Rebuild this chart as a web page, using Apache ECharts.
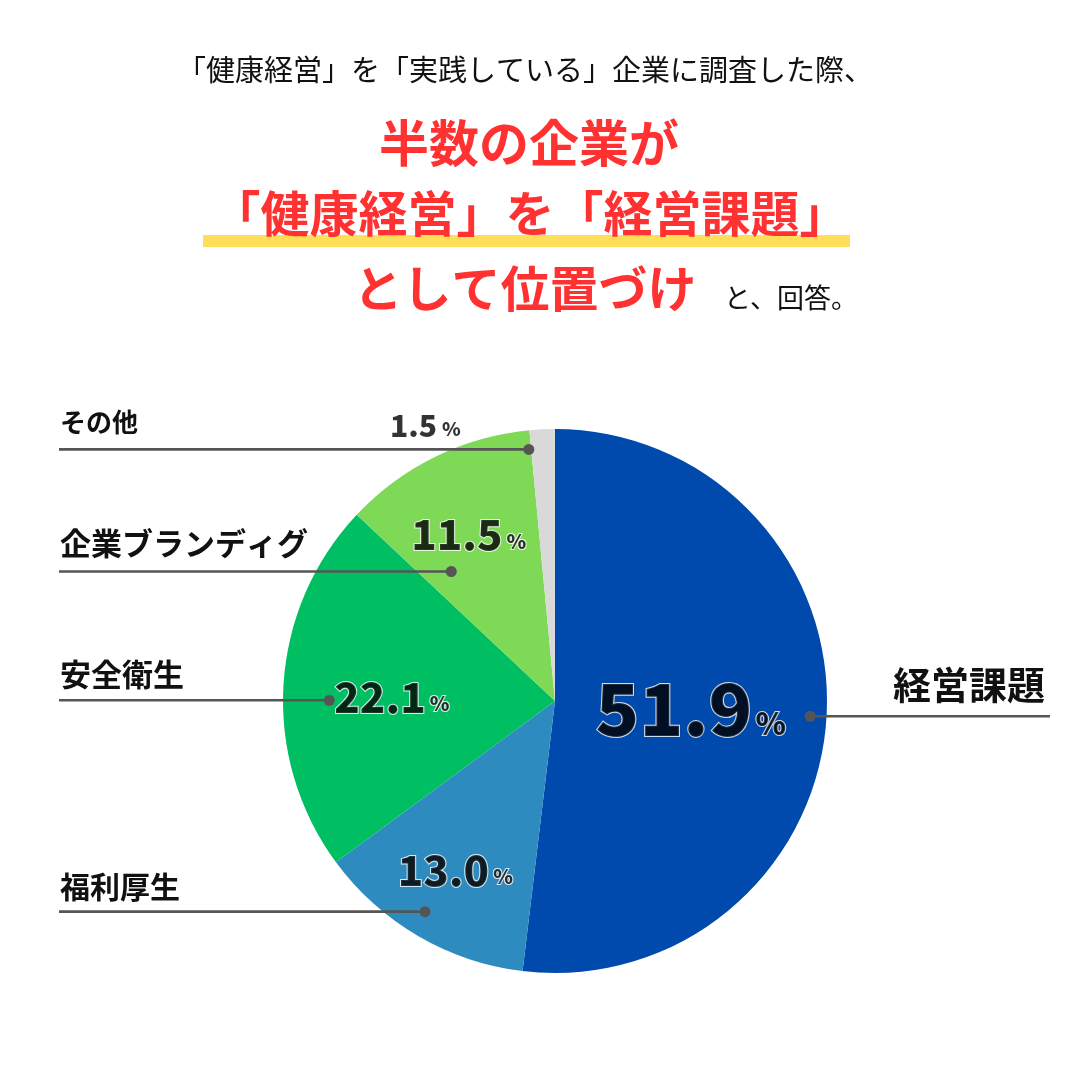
<!DOCTYPE html>
<html><head><meta charset="utf-8">
<script src="https://cdn.jsdelivr.net/npm/echarts@6/dist/echarts.min.js"></script>
<style>html,body{margin:0;padding:0;background:#fff}#c{width:1080px;height:1080px}</style>
</head><body><div id="c"></div>
<script>
// ---- data ----
const categories = ['経営課題', '福利厚生', '安全衛生', '企業ブランディグ', 'その他'];
const values = [51.9, 13.0, 22.1, 11.5, 1.5];
const colors = ['#004aad', '#2e8bc0', '#00bf63', '#7ed957', '#d9d9d9'];
const titleLine1 = '「健康経営」を「実践している」企業に調査した際、';
const headline = ['半数の企業が', '「健康経営」を「経営課題」', 'として位置づけ'];
const headlineTail = 'と、回答。';

// ---- layout (not data) ----
const CX = 555, CY = 701, R = 272, PR = 1.3;
const FONT = '"Noto Sans CJK JP", "Noto Sans", sans-serif';
const dotPlace = [[0.94, 0], [0.91, 0.4], [0.83, -0.9], [0.61, -3.5], [0.93, -0.9]];
const valPlace = [[0.50, -0.1], [0.72, 0.1], [0.60, -0.55], [0.69, -0.35], [1.12, -6.25]];
const valStyle = ['big', 'mid', 'mid', 'mid', 'small'];
const nameSize = [38, 30, 31, 31, 26];
const nameLift = [32, 25, 26, 28, 27];

const total = values.reduce((a, b) => a + b, 0);
const mids = []; let acc = 0;
values.forEach(v => { mids.push(acc + v / 2); acc += v; });

function polarXY(f, a) {
  const t = a / total * Math.PI * 2;
  return [CX + R * f * Math.sin(t), CY - R * f * Math.cos(t)];
}
function dotXY(i) { return polarXY(dotPlace[i][0], mids[i] + dotPlace[i][1]); }

const numBase = { fontFamily: FONT, fontWeight: 900, color: '#000', textBorderColor: '#fff', textBorderWidth: 2, verticalAlign: 'bottom' };
const rich = {
  bign: Object.assign({}, numBase, { fontSize: 72, lineHeight: 72 }),
  bigp: Object.assign({}, numBase, { fontSize: 31, lineHeight: 31, padding: [0, 0, 6, 3] }),
  midn: Object.assign({}, numBase, { fontSize: 42, lineHeight: 42 }),
  midp: Object.assign({}, numBase, { fontSize: 20, lineHeight: 20, padding: [0, 0, 4, 4] }),
  smalln: Object.assign({}, numBase, { fontSize: 30, lineHeight: 30 }),
  smallp: Object.assign({}, numBase, { fontSize: 19, lineHeight: 19, padding: [0, 0, 2, 5] })
};

const chart = echarts.init(document.getElementById('c'), null, { renderer: 'canvas' });
const option = {
  backgroundColor: '#fff',
  animation: false,
  polar: { center: [CX, CY], radius: R * PR },
  angleAxis: { type: 'value', min: 0, max: total, startAngle: 90, clockwise: true, show: false },
  radiusAxis: { type: 'value', min: 0, max: PR, show: false },
  graphic: [
    { type: 'rect', z: 1, shape: { x: 203, y: 235, width: 647, height: 12 }, style: { fill: '#ffde59' } },
    { type: 'text', z: 2, x: 525, y: 70, style: { text: titleLine1, fill: '#111', font: '400 29px ' + FONT, align: 'center', verticalAlign: 'middle' } },
    { type: 'text', z: 2, x: 529, y: 143, style: { text: headline[0], fill: '#ff3131', font: 'bold 50px ' + FONT, align: 'center', verticalAlign: 'middle' } },
    { type: 'text', z: 2, x: 530, y: 213, style: { text: headline[1], fill: '#ff3131', font: 'bold 49px ' + FONT, align: 'center', verticalAlign: 'middle' } },
    { type: 'text', z: 2, x: 525, y: 288, style: { text: headline[2], fill: '#ff3131', font: 'bold 49px ' + FONT, align: 'center', verticalAlign: 'middle' } },
    { type: 'text', z: 2, x: 791, y: 298, style: { text: headlineTail, fill: '#111', font: '400 27px ' + FONT, align: 'center', verticalAlign: 'middle' } }
  ],
  series: [
    {
      type: 'pie',
      center: [CX, CY],
      radius: R,
      startAngle: 90,
      clockwise: true,
      silent: true,
      z: 2,
      data: categories.map((c, i) => ({ name: c, value: values[i], itemStyle: { color: colors[i] } })),
      itemStyle: { borderWidth: 0 },
      label: { show: false },
      labelLine: { show: false }
    },
    {
      // transparent overlay pie: carries the category names and leader lines above all slices
      type: 'pie',
      center: [CX, CY],
      radius: R,
      startAngle: 90,
      clockwise: true,
      silent: true,
      z: 4,
      data: categories.map((c, i) => ({
        name: c, value: values[i],
        label: { fontSize: nameSize[i] }
      })),
      itemStyle: { color: 'rgba(0,0,0,0)', borderWidth: 0 },
      label: {
        show: true, position: 'outside', formatter: '{b}',
        fontFamily: FONT, fontWeight: 'bold', color: '#111'
      },
      labelLine: { show: true, showAbove: true, lineStyle: { color: '#555', width: 2.6, opacity: 1 } },
      labelLayout: function (p) {
        const i = p.dataIndex;
        const d = dotXY(i);
        const right = d[0] > CX;
        return {
          x: right ? 1045 : 60,
          y: d[1] - nameLift[i],
          align: right ? 'right' : 'left',
          verticalAlign: 'middle',
          labelLinePoints: [[d[0], d[1]], [right ? 1050 : 59, d[1]]]
        };
      }
    },
    {
      type: 'scatter',
      coordinateSystem: 'polar',
      silent: true,
      clip: false,
      z: 5,
      symbol: 'circle',
      symbolSize: 11,
      itemStyle: { color: '#555', opacity: 1 },
      data: categories.map((c, i) => [dotPlace[i][0], mids[i] + dotPlace[i][1]])
    },
    {
      type: 'scatter',
      coordinateSystem: 'polar',
      silent: true,
      clip: false,
      z: 6,
      symbolSize: 0,
      data: values.map((v, i) => ({
        value: [valPlace[i][0], mids[i] + valPlace[i][1]],
        label: {
          show: true, position: 'inside', color: '#000',
          formatter: '{' + valStyle[i] + 'n|' + v.toFixed(1) + '}{' + valStyle[i] + 'p|%}',
          rich: rich
        }
      }))
    }
  ]
};
chart.setOption(option);
</script>
</body></html>
